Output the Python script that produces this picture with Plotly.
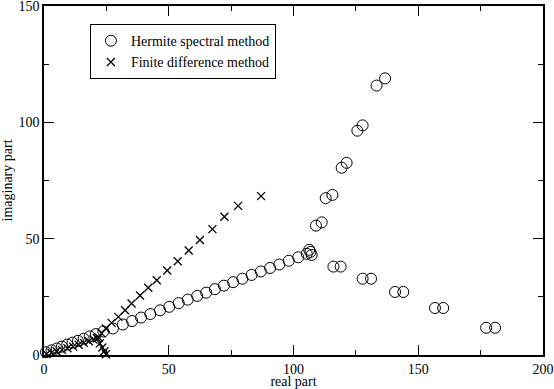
import plotly.graph_objects as go

# Hermite spectral method eigenvalues (real, imaginary)
herm_re = [0.8, 3.0, 5.1, 7.2, 9.3, 11.4, 13.6, 15.9, 18.3, 20.8, 23.8, 27.6,
           31.6, 35.3, 38.9, 42.6, 46.5, 50.2, 54.0, 57.6, 61.4, 65.0, 68.5,
           72.1, 75.8, 79.5, 83.2, 86.9, 90.6, 94.3, 98.1, 101.9,
           105.3, 106.3, 107.3, 106.8,
           109.0, 111.3, 112.9, 115.6, 119.3, 121.3, 125.6, 127.7, 133.3, 136.7,
           116.0, 118.9, 127.7, 131.1, 140.7, 144.0, 156.7, 160.0, 177.2, 180.8]
herm_im = [1.2, 2.0, 2.8, 3.6, 4.5, 5.3, 6.1, 7.0, 8.0, 9.0, 10.1, 11.4,
           13.1, 14.6, 16.1, 17.6, 19.2, 20.7, 22.3, 23.8, 25.4, 26.8, 28.3,
           29.8, 31.3, 32.8, 34.4, 35.9, 37.4, 38.9, 40.5, 42.0,
           43.5, 45.2, 43.0, 44.3,
           55.6, 57.0, 67.4, 68.8, 80.5, 82.6, 96.4, 98.7, 115.8, 118.9,
           38.0, 38.0, 32.8, 32.8, 27.1, 27.1, 20.2, 20.2, 11.7, 11.7]

# Finite difference method eigenvalues (real, imaginary)
fd_re = [1.0, 3.0, 5.0, 7.2, 9.4, 11.7, 13.9, 16.0, 18.0, 19.8, 21.2,
         21.8, 23.1, 24.8, 27.1, 29.8, 32.5, 35.1, 38.5, 41.8, 45.2, 49.4,
         53.6, 58.0, 62.5, 67.5, 72.3, 77.8, 87.0,
         22.4, 23.4, 24.2, 24.8]
fd_im = [0.4, 1.0, 1.6, 2.2, 2.9, 3.6, 4.4, 5.2, 5.9, 6.6, 7.2,
         7.6, 9.3, 11.4, 13.8, 16.4, 19.2, 22.1, 25.6, 28.9, 32.1, 36.3,
         40.3, 44.9, 49.4, 54.1, 59.4, 64.1, 68.3,
         5.0, 3.2, 1.6, 0.3]

FONT = "Liberation Serif, Times New Roman, serif"

fig = go.Figure()
fig.add_trace(go.Scatter(
    x=herm_re, y=herm_im, mode="markers", name="Hermite spectral method",
    marker=dict(symbol="circle-open", size=11, color="black", line=dict(width=1)),
    cliponaxis=False,
))
fig.add_trace(go.Scatter(
    x=fd_re, y=fd_im, mode="markers", name="Finite difference method",
    marker=dict(symbol="x-thin-open", size=8, color="black", line=dict(width=1.3)),
    cliponaxis=False,
))

axis_common = dict(
    showgrid=False, zeroline=False, showline=True, linecolor="black", linewidth=1.5,
    mirror="allticks", ticks="inside", ticklen=10, tickwidth=1, tickcolor="black",
    minor=dict(ticks="inside", ticklen=5, tickwidth=1, tickcolor="black", showgrid=False),
    tickfont=dict(family=FONT, size=14, color="black"),
    ticklabeloverflow="allow",
    automargin=False,
)

fig.update_xaxes(range=[0, 200], dtick=50, minor_dtick=25,
                 title=dict(text="real part", font=dict(family=FONT, size=14, color="black"), standoff=0),
                 **axis_common)
fig.update_yaxes(range=[0, 150], dtick=50, minor_dtick=25,
                 title=dict(text="imaginary part", font=dict(family=FONT, size=14, color="black"), standoff=4),
                 **axis_common)

fig.update_layout(
    width=554, height=389,
    margin=dict(l=44, r=11, t=6, b=34),
    plot_bgcolor="white", paper_bgcolor="white",
    font=dict(family=FONT, size=14, color="black"),
    legend=dict(x=0.092, y=0.948, xanchor="left", yanchor="top",
                bordercolor="black", borderwidth=1, bgcolor="white",
                font=dict(family=FONT, size=14), tracegroupgap=0),
)

# page body has a default 8px margin; drop it so the figure sits at the corner
fig.write_html("out.html", config={"displayModeBar": False},
               post_script="document.body.style.margin='0';")
